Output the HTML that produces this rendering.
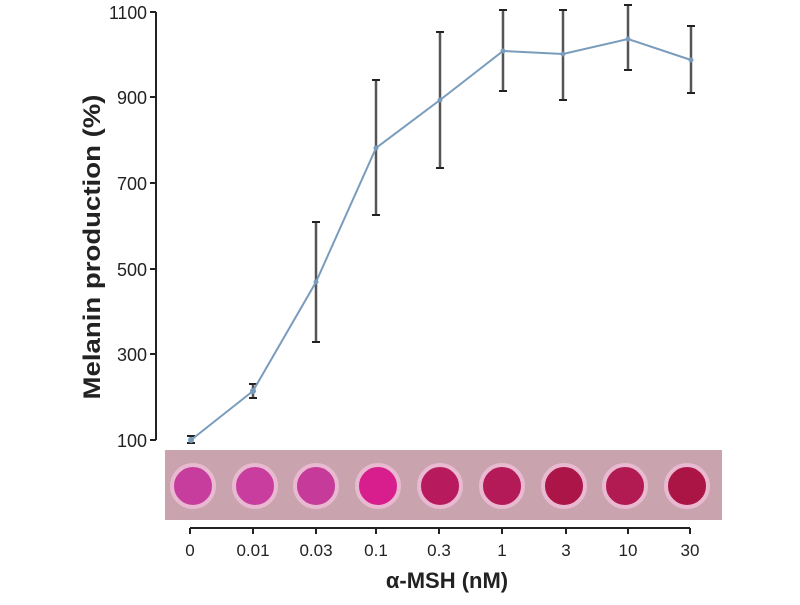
<!DOCTYPE html>
<html><head><style>body{margin:0;background:#fff}</style></head><body>
<svg width="800" height="600" xmlns="http://www.w3.org/2000/svg" font-family="Liberation Sans, sans-serif">
<rect x="165" y="450" width="557" height="70" fill="#c9a3ae"/>
<g stroke="#e8b9d0" stroke-width="4">
<circle cx="193" cy="486" r="21" fill="#c73d9d"/>
<circle cx="255" cy="486" r="21" fill="#c83d9e"/>
<circle cx="316" cy="486" r="21" fill="#c63a9a"/>
<circle cx="378" cy="486" r="21" fill="#d71e8c"/>
<circle cx="440" cy="486" r="21" fill="#b81a5e"/>
<circle cx="502" cy="486" r="21" fill="#b41a58"/>
<circle cx="564" cy="486" r="21" fill="#ac1548"/>
<circle cx="625" cy="486" r="21" fill="#b21a52"/>
<circle cx="687" cy="486" r="21" fill="#ab1546"/>
</g>
<g stroke="#222" stroke-width="2" fill="none">
<line x1="156" y1="12" x2="156" y2="440"/>
<line x1="150" y1="12" x2="156" y2="12"/><line x1="150" y1="97" x2="156" y2="97"/><line x1="150" y1="183" x2="156" y2="183"/><line x1="150" y1="269" x2="156" y2="269"/><line x1="150" y1="354" x2="156" y2="354"/><line x1="150" y1="440" x2="156" y2="440"/>
<line x1="190" y1="528" x2="690" y2="528"/>
<path d="M190 528v6M253 528v6M316 528v6M376 528v6M439 528v6M502 528v6M566 528v6M628 528v6M690 528v6"/>
</g>
<g font-size="18" fill="#222" text-anchor="end">
<text x="147" y="19" textLength="38" lengthAdjust="spacingAndGlyphs">1100</text><text x="147" y="104">900</text><text x="147" y="190">700</text><text x="147" y="276">500</text><text x="147" y="361">300</text><text x="147" y="447">100</text>
</g>
<g font-size="17" fill="#222" text-anchor="middle">
<text x="190" y="556">0</text><text x="253" y="556">0.01</text><text x="316" y="556">0.03</text><text x="376" y="556">0.1</text><text x="439" y="556">0.3</text><text x="502" y="556">1</text><text x="566" y="556">3</text><text x="628" y="556">10</text><text x="690" y="556">30</text>
</g>
<text x="447" y="588" font-size="22" font-weight="bold" text-anchor="middle" fill="#222">α-MSH (nM)</text>
<text transform="translate(100,247) rotate(-90)" font-size="24" font-weight="bold" text-anchor="middle" fill="#222" textLength="305" lengthAdjust="spacingAndGlyphs">Melanin production  (%)</text>
<g stroke="#555" stroke-width="2.5">
<path d="M191 436v7M253 384v14M316 222v120M376 80v135M440 32v136M503 10v81M563 10v90M628 5v65M691 26v67"/>
</g>
<g stroke="#222" stroke-width="2">
<path d="M187 436h8M187 443h8M249 384h8M249 398h8M312 222h8M312 342h8M372 80h8M372 215h8M436 32h8M436 168h8M499 10h8M499 91h8M559 10h8M559 100h8M624 5h8M624 70h8M687 26h8M687 93h8"/>
</g>
<polyline points="191,440 253,391 316,282 376,148 440,100 503,51 563,54 628,39 691,60" fill="none" stroke="#7a9cbc" stroke-width="2"/>
<g fill="#7a9cbc"><circle cx="191" cy="440" r="3"/><circle cx="253" cy="391" r="3"/><circle cx="316" cy="282" r="2.5"/><circle cx="376" cy="148" r="2.5"/><circle cx="440" cy="100" r="2.5"/><circle cx="503" cy="51" r="2.5"/><circle cx="563" cy="54" r="2.5"/><circle cx="628" cy="39" r="2.5"/><circle cx="691" cy="60" r="2.5"/></g>
</svg>
</body></html>
